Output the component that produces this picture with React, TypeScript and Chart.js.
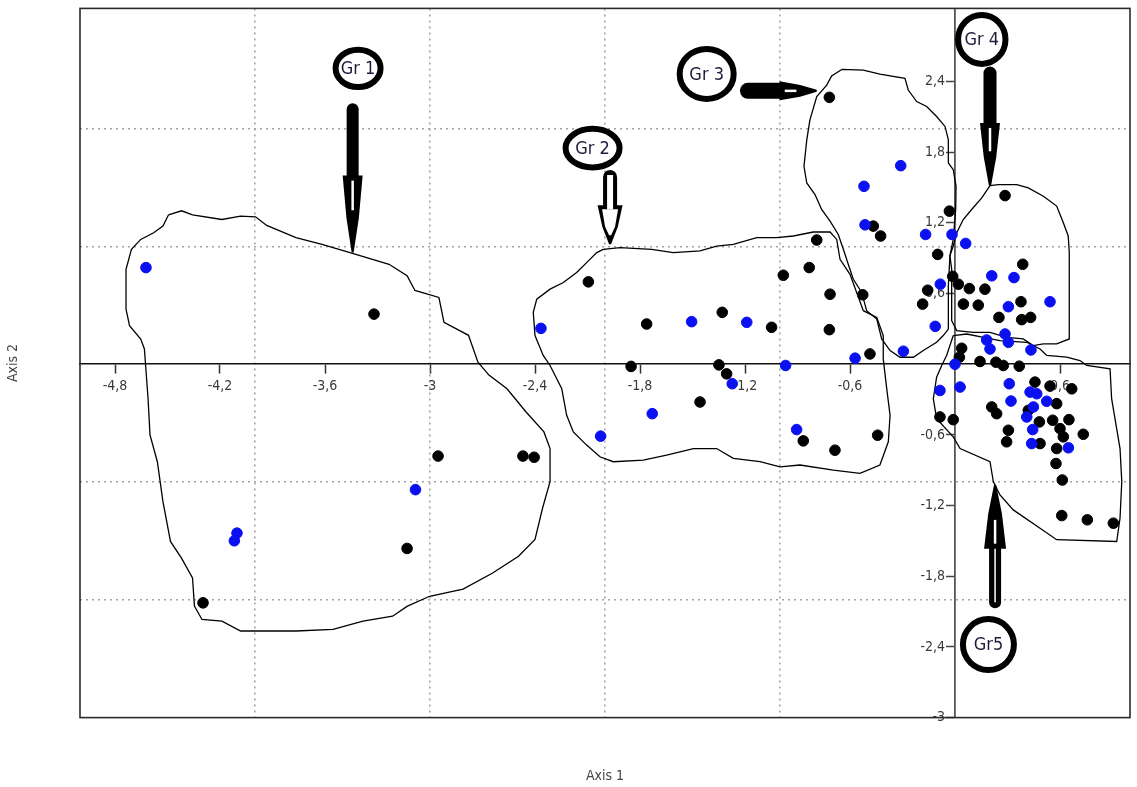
import React, { useEffect, useRef } from "react";
import { Chart, registerables } from "chart.js";

Chart.register(...registerables);

// ---------- axis ticks ----------
const xTickValues = [-4.8, -4.2, -3.6, -3, -2.4, -1.8, -1.2, -0.6, 0.6];
const yTickValues = [-3, -2.4, -1.8, -1.2, -0.6, 0.6, 1.2, 1.8, 2.4];
const xGridValues = [-4, -3, -2, -1];
const yGridValues = [-2, -1, 1, 2];
const xMin = -5;
const xMax = 1;
const yMin = -3;
const yMax = 3.02;

// ---------- points (Axis 1, Axis 2) ----------
const g1Black = [[-3.32, 0.425], [-2.954, -0.78], [-2.469, -0.78], [-2.405, -0.79], [-3.131, -1.564], [-4.297, -2.026]];
const g1Blue = [[-4.623, 0.82], [-3.083, -1.065], [-4.103, -1.434], [-4.118, -1.499]];

const g2Black = [[-2.095, 0.699], [-1.762, 0.341], [-1.33, 0.44], [-1.048, 0.313], [-0.981, 0.755], [-0.833, 0.82], [-0.79, 1.054], [-0.714, 0.594], [-0.718, 0.293], [-1.851, -0.019], [-1.349, -0.006], [-1.305, -0.082], [-1.457, -0.321], [-0.867, -0.651], [-0.686, -0.73], [-0.442, -0.603], [-0.486, 0.087]];
const g2Blue = [[-2.366, 0.304], [-1.505, 0.361], [-1.19, 0.355], [-1.273, -0.166], [-0.968, -0.011], [-0.571, 0.051], [-1.73, -0.42], [-2.025, -0.611], [-0.905, -0.555]];

const g3Black = [[-0.718, 2.265], [-0.467, 1.172], [-0.425, 1.088], [-0.032, 1.299], [-0.099, 0.932], [-0.156, 0.628], [-0.185, 0.51], [-0.527, 0.589]];
const g3Blue = [[-0.31, 1.685], [-0.52, 1.51], [-0.514, 1.183], [-0.168, 1.101], [-0.017, 1.101], [-0.084, 0.679], [-0.113, 0.321], [-0.295, 0.11]];

const g4Black = [[0.286, 1.431], [0.387, 0.848], [-0.013, 0.745], [0.019, 0.679], [0.082, 0.642], [0.171, 0.637], [0.048, 0.51], [0.133, 0.501], [0.377, 0.53], [0.251, 0.397], [0.381, 0.378], [0.432, 0.397]];
const g4Blue = [[0.061, 1.025], [0.21, 0.75], [0.337, 0.735], [0.305, 0.488], [0.543, 0.53], [0.286, 0.256], [0.305, 0.186], [0.181, 0.205], [0.2, 0.129], [0.434, 0.121]];

const g5Black = [[0.038, 0.135], [0.025, 0.059], [0.143, 0.023], [0.234, 0.017], [0.276, -0.011], [0.367, -0.017], [0.457, -0.152], [0.543, -0.186], [0.667, -0.209], [0.581, -0.335], [0.21, -0.363], [0.238, -0.42], [0.419, -0.392], [-0.086, -0.448], [-0.01, -0.471], [0.482, -0.49], [0.558, -0.476], [0.651, -0.471], [0.305, -0.561], [0.6, -0.547], [0.733, -0.595], [0.619, -0.617], [0.295, -0.659], [0.486, -0.674], [0.581, -0.716], [0.577, -0.843], [0.613, -0.983], [0.61, -1.285], [0.756, -1.321], [0.905, -1.35]];
const g5Blue = [[0, 0], [0.029, -0.194], [-0.086, -0.223], [0.31, -0.166], [0.429, -0.237], [0.467, -0.251], [0.32, -0.313], [0.524, -0.315], [0.448, -0.363], [0.41, -0.448], [0.444, -0.555], [0.438, -0.674], [0.648, -0.71]];

// ---------- group outlines (Axis 1, Axis 2) ----------
const hull1 = [[-4.494, 1.268], [-4.42, 1.302], [-4.357, 1.268], [-4.189, 1.228], [-4.082, 1.257], [-3.997, 1.251], [-3.933, 1.178], [-3.766, 1.074], [-3.617, 1.017], [-3.457, 0.947], [-3.343, 0.896], [-3.234, 0.848], [-3.131, 0.752], [-3.086, 0.626], [-2.949, 0.566], [-2.92, 0.355], [-2.78, 0.245], [-2.726, 0.017], [-2.663, -0.093], [-2.56, -0.209], [-2.451, -0.406], [-2.349, -0.575], [-2.314, -0.716], [-2.314, -0.997], [-2.357, -1.223], [-2.4, -1.488], [-2.494, -1.631], [-2.642, -1.773], [-2.811, -1.91], [-3.002, -1.97], [-3.129, -2.054], [-3.214, -2.139], [-3.383, -2.181], [-3.554, -2.251], [-3.766, -2.265], [-4.082, -2.265], [-4.189, -2.181], [-4.303, -2.167], [-4.346, -2.054], [-4.357, -1.815], [-4.42, -1.646], [-4.483, -1.505], [-4.526, -1.167], [-4.558, -0.828], [-4.6, -0.6], [-4.611, -0.293], [-4.632, 0.129], [-4.653, 0.214], [-4.717, 0.327], [-4.737, 0.467], [-4.737, 0.806], [-4.706, 0.975], [-4.653, 1.059], [-4.579, 1.116], [-4.526, 1.172]];
const hull2 = [[-2.01, 0.975], [-1.914, 0.989], [-1.733, 0.975], [-1.61, 0.947], [-1.457, 0.961], [-1.362, 1.003], [-1.267, 1.017], [-1.133, 1.074], [-1.019, 1.074], [-0.924, 1.088], [-0.81, 1.122], [-0.714, 1.122], [-0.676, 1.059], [-0.657, 0.89], [-0.6, 0.763], [-0.562, 0.609], [-0.524, 0.454], [-0.447, 0.397], [-0.41, 0.243], [-0.41, 0.045], [-0.39, -0.209], [-0.371, -0.434], [-0.381, -0.659], [-0.429, -0.856], [-0.543, -0.927], [-0.695, -0.899], [-0.886, -0.856], [-1.0, -0.871], [-1.114, -0.828], [-1.267, -0.8], [-1.362, -0.716], [-1.495, -0.716], [-1.648, -0.772], [-1.781, -0.814], [-1.953, -0.828], [-2.029, -0.786], [-2.105, -0.687], [-2.181, -0.575], [-2.219, -0.434], [-2.247, -0.209], [-2.314, -0.011], [-2.353, 0.074], [-2.4, 0.243], [-2.41, 0.44], [-2.39, 0.552], [-2.314, 0.637], [-2.238, 0.693], [-2.162, 0.778], [-2.105, 0.862], [-2.047, 0.947]];
const hull3 = [[-0.647, 2.502], [-0.524, 2.496], [-0.429, 2.462], [-0.286, 2.426], [-0.267, 2.327], [-0.219, 2.229], [-0.162, 2.187], [-0.105, 2.102], [-0.057, 2.018], [-0.038, 1.904], [-0.038, 1.708], [-0.01, 1.651], [0.006, 1.511], [0.004, 1.313], [-0.01, 1.059], [-0.029, 0.919], [-0.038, 0.665], [-0.038, 0.298], [-0.067, 0.243], [-0.105, 0.186], [-0.181, 0.116], [-0.238, 0.059], [-0.314, 0.059], [-0.371, 0.116], [-0.419, 0.214], [-0.447, 0.383], [-0.505, 0.454], [-0.533, 0.609], [-0.581, 0.721], [-0.61, 0.848], [-0.638, 0.975], [-0.667, 1.101], [-0.714, 1.215], [-0.762, 1.313], [-0.8, 1.44], [-0.847, 1.538], [-0.863, 1.68], [-0.847, 1.904], [-0.829, 2.074], [-0.79, 2.271], [-0.733, 2.369], [-0.705, 2.446]];
const hull4 = [[0.2, 1.516], [0.247, 1.524], [0.353, 1.524], [0.419, 1.496], [0.505, 1.426], [0.581, 1.342], [0.619, 1.2], [0.647, 1.088], [0.653, 0.947], [0.653, 0.524], [0.653, 0.214], [0.581, 0.172], [0.505, 0.172], [0.447, 0.158], [0.39, 0.214], [0.295, 0.228], [0.2, 0.27], [0.105, 0.27], [0.01, 0.285], [-0.019, 0.369], [-0.019, 0.581], [-0.019, 0.806], [-0.029, 0.919], [-0.01, 1.003], [0.01, 1.116], [0.047, 1.228], [0.095, 1.313], [0.153, 1.412]];
const hull5 = [[-0.01, 0.243], [0.067, 0.256], [0.162, 0.228], [0.257, 0.2], [0.41, 0.186], [0.486, 0.129], [0.524, 0.074], [0.638, 0.059], [0.714, 0.031], [0.753, -0.011], [0.886, -0.04], [0.895, -0.293], [0.943, -0.716], [0.953, -0.997], [0.943, -1.308], [0.924, -1.505], [0.581, -1.49], [0.486, -1.392], [0.333, -1.237], [0.257, -1.11], [0.219, -0.997], [0.2, -0.828], [0.029, -0.716], [-0.01, -0.617], [-0.105, -0.462], [-0.124, -0.293], [-0.105, -0.11], [-0.076, -0.011], [-0.048, 0.074]];

// ---------- group annotations ----------
const groupNames = ["Gr 1", "Gr 2", "Gr 3", "Gr 4", "Gr5"];
const labelX = [-3.411, -2.071, -1.419, 0.153, 0.191];
const labelY = [2.511, 1.834, 2.464, 2.757, -2.38];
const arrowFromX = [-3.442, -1.971, -1.229, 0.2, 0.229];
const arrowFromY = [2.215, 1.648, 2.32, 2.527, -2.071];
const arrowToX = [-3.442, -1.971, -0.79, 0.2, 0.229];
const arrowToY = [0.947, 1.017, 2.32, 1.513, -1.023];

// styling of annotations (pixels)
const ellipseRadii = [[22.5, 18.7], [27, 19.3], [27, 25], [23.7, 24.5], [25.5, 25.5]];
const arrowShaft = [12, 14, 16, 13, 12];
const arrowHeadLen = [77, 39, 37, 63, 64];
const arrowHeadHalf = [10, 12.5, 9.5, 10, 11];
const arrowHollow = [false, true, false, false, false];
const arrowCenterLine = [false, false, false, false, true];

const COND = "'DejaVu Sans Condensed', 'Liberation Sans Narrow', 'Liberation Sans', sans-serif";
const Y_LABEL_GAP_PX = 10;

const fmt = (v: number) => String(Math.round(v * 10) / 10).replace(".", ",");
const toXY = (arr: number[][]) => arr.map(([x, y]) => ({ x, y }));
const closed = (arr: number[][]) => toXY(arr.concat([arr[0]]));

function drawArrow(ctx: CanvasRenderingContext2D, x0: number, y0: number, x1: number, y1: number, i: number) {
  const dx = x1 - x0, dy = y1 - y0;
  const len = Math.hypot(dx, dy);
  const ux = dx / len, uy = dy / len;
  const nx = -uy, ny = ux;
  const hl = arrowHeadLen[i];
  const hw = arrowHeadHalf[i];
  const hx = x1 - ux * hl, hy = y1 - uy * hl;
  const sw = arrowShaft[i];

  const headPath = (w: number, back: number, tipBack: number) => {
    const bx = hx + ux * back, by = hy + uy * back;
    const tx = x1 - ux * tipBack, ty = y1 - uy * tipBack;
    const mx = hx + ux * hl * 0.55, my = hy + uy * hl * 0.55;
    ctx.beginPath();
    ctx.moveTo(bx + nx * w, by + ny * w);
    ctx.lineTo(mx + nx * w * 0.62, my + ny * w * 0.62);
    ctx.lineTo(tx + nx * 1, ty + ny * 1);
    ctx.lineTo(tx - nx * 1, ty - ny * 1);
    ctx.lineTo(mx - nx * w * 0.62, my - ny * w * 0.62);
    ctx.lineTo(bx - nx * w, by - ny * w);
    ctx.closePath();
  };

  ctx.strokeStyle = "#000";
  ctx.lineCap = "round";
  ctx.lineWidth = sw;
  ctx.beginPath();
  ctx.moveTo(x0 + ux * sw * 0.5, y0 + uy * sw * 0.5);
  ctx.lineTo(hx + ux * 2, hy + uy * 2);
  ctx.stroke();
  ctx.fillStyle = "#000";
  headPath(hw, 0, 0);
  ctx.fill();

  ctx.lineCap = "butt";
  if (arrowHollow[i]) {
    ctx.strokeStyle = "#fff";
    ctx.lineWidth = sw - 8;
    ctx.beginPath();
    ctx.moveTo(x0 + ux * 5, y0 + uy * 5);
    ctx.lineTo(hx + ux * 4, hy + uy * 4);
    ctx.stroke();
    ctx.fillStyle = "#fff";
    headPath(hw - 4.5, 4, 9);
    ctx.fill();
  } else {
    if (arrowCenterLine[i]) {
      ctx.strokeStyle = "#fff";
      ctx.lineWidth = 1.5;
      ctx.beginPath();
      ctx.moveTo(x0 + ux * 6, y0 + uy * 6);
      ctx.lineTo(hx, hy);
      ctx.stroke();
    }
    ctx.strokeStyle = "#fff";
    ctx.lineWidth = 2.5;
    ctx.beginPath();
    ctx.moveTo(hx + ux * 5, hy + uy * 5);
    ctx.lineTo(hx + ux * hl * 0.45, hy + uy * hl * 0.45);
    ctx.stroke();
  }
}

const groupPlugin = {
  id: "groupAnnotations",
  afterDatasetsDraw(chart: any) {
    const { ctx, chartArea, scales } = chart;
    const xs = scales.x, ys = scales.y;
    ctx.save();
    ctx.strokeStyle = "#2a2a2a";
    ctx.lineWidth = 1.6;
    ctx.strokeRect(chartArea.left, chartArea.top, chartArea.right - chartArea.left, chartArea.bottom - chartArea.top);

    groupNames.forEach((name, i) => {
      drawArrow(
        ctx,
        xs.getPixelForValue(arrowFromX[i]), ys.getPixelForValue(arrowFromY[i]),
        xs.getPixelForValue(arrowToX[i]), ys.getPixelForValue(arrowToY[i]),
        i
      );
      const cx = xs.getPixelForValue(labelX[i]);
      const cy = ys.getPixelForValue(labelY[i]);
      ctx.beginPath();
      ctx.ellipse(cx, cy, ellipseRadii[i][0], ellipseRadii[i][1], 0, 0, Math.PI * 2);
      ctx.fillStyle = "#fff";
      ctx.fill();
      ctx.lineWidth = 6;
      ctx.strokeStyle = "#000";
      ctx.stroke();
      ctx.fillStyle = "#1c1c3a";
      ctx.font = `18px ${COND}`;
      ctx.textAlign = "center";
      ctx.textBaseline = "middle";
      ctx.fillText(name, cx, cy + 1);
    });
    ctx.restore();
  },
};

export default function App() {
  const canvasRef = useRef<HTMLCanvasElement | null>(null);

  useEffect(() => {
    if (!canvasRef.current) return;
    const blackPoints = toXY([...g1Black, ...g2Black, ...g3Black, ...g4Black, ...g5Black]);
    const bluePoints = toXY([...g1Blue, ...g2Blue, ...g3Blue, ...g4Blue, ...g5Blue]);
    const hulls = [hull1, hull2, hull3, hull4, hull5];

    const pointStyle = (color: string) => ({
      backgroundColor: color,
      borderColor: color,
      borderWidth: 1,
      pointRadius: 5.3,
      showLine: false,
    });

    // x position (data units) of the y-label column, 10px left of the x=0 line
    const plotWidthPx = 1137 - 80 - 7;
    const yLabelX = -Y_LABEL_GAP_PX * (xMax - xMin) / plotWidthPx;

    const chart = new Chart(canvasRef.current, {
      type: "scatter",
      data: {
        datasets: [
          { label: "blue", data: bluePoints, ...pointStyle("#0a10f0") },
          { label: "black", data: blackPoints, ...pointStyle("#000000") },
          ...hulls.map((h, i) => ({
            label: `hull ${i + 1}`,
            data: closed(h),
            showLine: true,
            pointRadius: 0,
            borderColor: "#000",
            borderWidth: 1.3,
            fill: false,
            tension: 0,
          })),
        ] as any,
      },
      options: {
        animation: false,
        responsive: true,
        maintainAspectRatio: false,
        layout: { autoPadding: false, padding: { top: 4, right: 7, left: 0, bottom: 0 } } as any,
        plugins: { legend: { display: false }, tooltip: { enabled: false } },
        scales: {
          x: {
            type: "linear",
            position: { y: 0 } as any,
            min: xMin,
            max: xMax,
            afterBuildTicks: (s: any) => { s.ticks = xTickValues.map((v) => ({ value: v })); },
            ticks: { callback: (v: any) => fmt(Number(v)), color: "#3a3a3a", font: { family: COND, size: 14 }, padding: 5, maxRotation: 0, autoSkip: false },
            grid: { drawOnChartArea: false, drawTicks: true, tickLength: 9, tickColor: "#333", tickWidth: 1.5 },
            border: { display: true, color: "#111", width: 1.6 },
          },
          y: {
            type: "linear",
            position: { x: 0 } as any,
            min: yMin,
            max: yMax,
            afterBuildTicks: (s: any) => { s.ticks = yTickValues.map((v) => ({ value: v })); },
            ticks: { display: false },
            grid: { drawOnChartArea: false, drawTicks: true, tickLength: 8, tickColor: "#444", tickWidth: 1.5 },
            border: { display: true, color: "#555", width: 1.8 },
          },
          yl: {
            type: "linear",
            position: { x: yLabelX } as any,
            min: yMin,
            max: yMax,
            afterBuildTicks: (s: any) => { s.ticks = yTickValues.map((v) => ({ value: v })); },
            ticks: { callback: (v: any) => fmt(Number(v)), color: "#3a3a3a", font: { family: COND, size: 14 }, padding: 0, autoSkip: false },
            grid: { display: false, drawTicks: false },
            border: { display: false },
          },
          xg: {
            type: "linear",
            position: "bottom",
            min: xMin,
            max: xMax,
            afterBuildTicks: (s: any) => { s.ticks = xGridValues.map((v) => ({ value: v })); },
            ticks: { display: false },
            grid: { color: "#a3a3a3", lineWidth: 1.6, drawTicks: false },
            border: { display: false, dash: [2, 4] },
            title: { display: true, text: "Axis 1", color: "#444", font: { family: COND, size: 14 }, padding: { top: 50, bottom: 2.6 } },
          },
          yg: {
            type: "linear",
            position: "left",
            min: yMin,
            max: yMax,
            afterBuildTicks: (s: any) => { s.ticks = yGridValues.map((v) => ({ value: v })); },
            ticks: { display: false },
            grid: { color: "#a3a3a3", lineWidth: 1.6, drawTicks: false },
            border: { display: false, dash: [2, 4] },
            title: { display: true, text: "Axis 2", color: "#444", font: { family: COND, size: 14 }, padding: { top: 5, bottom: 58.2 } },
          },
        } as any,
      },
      plugins: [groupPlugin],
    });
    return () => chart.destroy();
  }, []);

  return (
    <div style={{ position: "fixed", left: 0, top: 0, width: 1137, height: 787, background: "#fff" }}>
      <canvas ref={canvasRef} />
    </div>
  );
}
